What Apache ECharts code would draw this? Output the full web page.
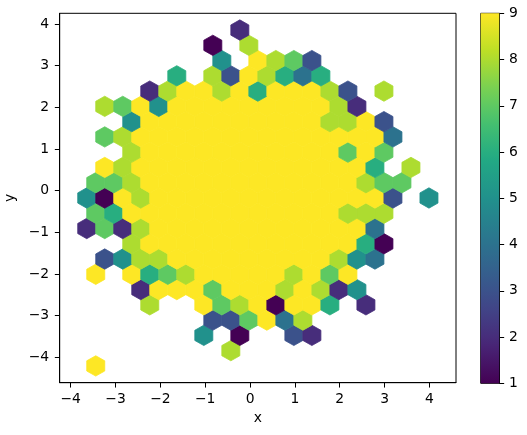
<!DOCTYPE html>
<html><head><meta charset="utf-8">
<script src="https://cdn.jsdelivr.net/npm/echarts@6.0.0/dist/echarts.min.js"></script>
<style>html,body{margin:0;padding:0;background:#fff}#chart{width:527px;height:435px}</style>
</head><body><div id="chart"></div>
<script>
// Hexbin counts (gridsize 20). One string per hex row, bottom row first.
// Even rows hold columns k = 0,2,4,...; odd rows hold k = 1,3,5,...  '.' = empty bin.
const hexRows = [
  ".9...................",
  "........8...........",
  ".......5.1..32.......",
  ".......337948.......",
  "....8..97891996.2....",
  "...2999799989825....",
  ".9.9678999998979.....",
  ".3588999999999854...",
  "...899999999999961...",
  "27289999999999994...",
  ".76999999999999888...",
  "519899999999999993.5",
  ".778999999999999877..",
  ".9899999999999996.8.",
  "...899999999999797...",
  ".78999999999999994..",
  "...599999999998893...",
  ".879599999999982....",
  "....289989699983.8...",
  ".....6.8398646......",
  "........5.9873.......",
  ".......1.8..........",
  ".........2..........."
];
// bin lattice (data units)
const gridX0 = -3.843, gridSX = 0.4017, gridY0 = -4.207, gridSY = 0.733;
const xTicks = [-4, -3, -2, -1, 0, 1, 2, 3, 4];
const yTicks = [-4, -3, -2, -1, 0, 1, 2, 3, 4];
const colorTicks = [1, 2, 3, 4, 5, 6, 7, 8, 9];
const countMin = 1, countMax = 9;
const viridis9 = ['#440154', '#472d7b', '#3b528b', '#2c728e', '#21918c', '#28ae80', '#5ec962', '#addc30', '#fde725'];
const viridisStops = [
  [0, '#440154'], [0.1, '#482475'], [0.125, '#472d7b'], [0.2, '#414487'], [0.25, '#3b528b'],
  [0.3, '#355f8d'], [0.375, '#2c728e'], [0.4, '#2a788e'], [0.5, '#21918c'], [0.6, '#22a884'],
  [0.625, '#28ae80'], [0.7, '#44bf70'], [0.75, '#5ec962'], [0.8, '#7ad151'], [0.875, '#addc30'],
  [0.9, '#bddf26'], [1, '#fde725']
];

const hexData = [];
hexRows.forEach(function (row, m) {
  for (let c = 0; c < row.length; c++) {
    const ch = row[c];
    if (ch === '.') continue;
    const k = 2 * c + (m % 2);
    hexData.push([gridX0 + k * gridSX / 2, gridY0 + m * gridSY / 2, Number(ch)]);
  }
});

const FONT = 'DejaVu Sans';
const FS = 13.9;
const fmt = function (v) { return String(v).replace('-', '\u2212'); };

function renderHex(params, api) {
  const cx = api.value(0), cy = api.value(1);
  const hx = gridSX / 2, hy = gridSY / 6, vy = gridSY / 3;
  const pts = [[cx + hx, cy - hy], [cx + hx, cy + hy], [cx, cy + vy], [cx - hx, cy + hy], [cx - hx, cy - hy], [cx, cy - vy]]
    .map(function (p) { return api.coord(p); });
  const color = api.visual('color');
  return { type: 'polygon', shape: { points: pts }, style: { fill: color, stroke: color, lineWidth: 0.8 } };
}

function renderBar(params, api) {
  const p1 = api.coord([0, countMax]);
  const p2 = api.coord([1, countMin]);
  return {
    type: 'rect',
    shape: { x: p1[0], y: p1[1], width: p2[0] - p1[0], height: p2[1] - p1[1] },
    style: {
      fill: new echarts.graphic.LinearGradient(0, 1, 0, 0,
        viridisStops.map(function (s) { return { offset: s[0], color: s[1] }; }))
    }
  };
}

const axisCommon = {
  axisLine: { show: true, onZero: false, lineStyle: { color: '#000', width: 1 } },
  axisTick: { show: true, inside: false, length: 4.86, lineStyle: { color: '#000', width: 1 } },
  splitLine: { show: false },
  axisLabel: { color: '#000', fontFamily: FONT, fontSize: FS, margin: 9.7, formatter: fmt },
  nameTextStyle: { color: '#000', fontFamily: FONT, fontSize: FS }
};

const chart = echarts.init(document.getElementById('chart'), null, { renderer: 'canvas' });
chart.setOption({
  backgroundColor: '#fff',
  animation: false,
  grid: [
    { left: 59.7, top: 13.3, width: 396.3, height: 369.4, show: true, borderColor: '#000', borderWidth: 1,
      backgroundColor: 'transparent', containLabel: false, outerBoundsMode: 'none' },
    { left: 480.7, top: 13.3, width: 18.6, height: 370, show: true, borderColor: '#000', borderWidth: 1,
      backgroundColor: 'transparent', containLabel: false, outerBoundsMode: 'none' }
  ],
  xAxis: [
    Object.assign({}, axisCommon, {
      type: 'value', gridIndex: 0, min: -4.245, max: 4.593,
      name: 'x', nameLocation: 'middle', nameGap: 29,
      axisTick: Object.assign({}, axisCommon.axisTick, { customValues: xTicks }),
      axisLabel: Object.assign({}, axisCommon.axisLabel, { customValues: xTicks })
    }),
    { type: 'value', gridIndex: 1, min: 0, max: 1, show: false }
  ],
  yAxis: [
    Object.assign({}, axisCommon, {
      type: 'value', gridIndex: 0, min: -4.61, max: 4.258,
      name: 'y', nameLocation: 'middle', nameGap: 35,
      axisTick: Object.assign({}, axisCommon.axisTick, { customValues: yTicks }),
      axisLabel: Object.assign({}, axisCommon.axisLabel, { customValues: yTicks, margin: 10.5 })
    }),
    Object.assign({}, axisCommon, {
      type: 'value', gridIndex: 1, min: countMin, max: countMax, position: 'right',
      axisTick: Object.assign({}, axisCommon.axisTick, { customValues: colorTicks }),
      axisLabel: Object.assign({}, axisCommon.axisLabel, { customValues: colorTicks, margin: 9.7 })
    })
  ],
  visualMap: {
    type: 'continuous', show: false, seriesIndex: 0, dimension: 2,
    min: countMin, max: countMax, inRange: { color: viridis9 }
  },
  series: [
    {
      type: 'custom', xAxisIndex: 0, yAxisIndex: 0, renderItem: renderHex,
      data: hexData, encode: { x: 0, y: 1 }, clip: true
    },
    {
      type: 'custom', xAxisIndex: 1, yAxisIndex: 1, renderItem: renderBar,
      data: [[0, countMin]], encode: { x: 0, y: 1 }, z: 1
    }
  ]
});
</script>
</body></html>
